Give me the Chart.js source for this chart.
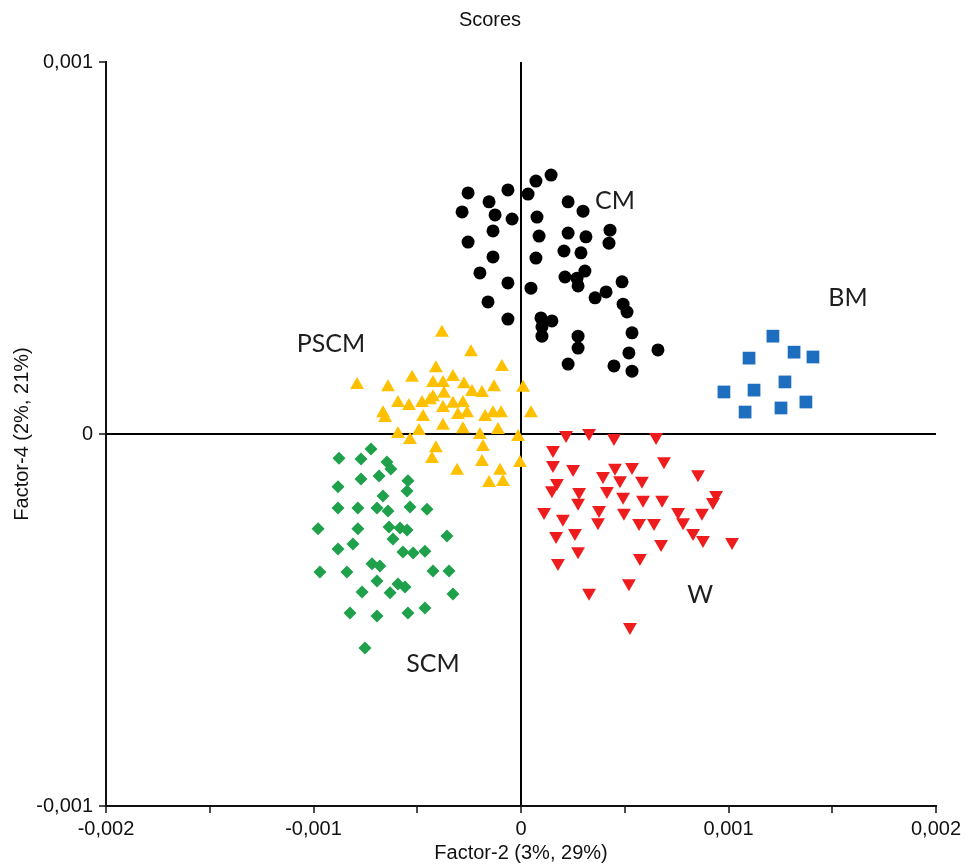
<!DOCTYPE html>
<html>
<head>
<meta charset="utf-8">
<title>Scores</title>
<script src="https://cdn.jsdelivr.net/npm/chart.js@4.4.1/dist/chart.umd.min.js"></script>
<style>
  body { margin: 0; background: #fff; }
  canvas { display: block; }
</style>
</head>
<body>
<canvas id="scores" width="970" height="865"></canvas>
<script>
// score coordinates per group (Factor-2, Factor-4)
const cmX = [1.45e-4, 0.72e-4, -2.55e-4, -0.63e-4, 0.34e-4, -1.54e-4, 2.27e-4, 2.99e-4, -2.84e-4, -1.25e-4,
  -0.43e-4, 0.77e-4, -1.35e-4, 0.87e-4, 2.27e-4, 3.13e-4, 4.29e-4, 4.24e-4, -2.55e-4, -1.35e-4,
  0.72e-4, 2.07e-4, 2.89e-4, -1.98e-4, -0.63e-4, 0.48e-4, 2.12e-4, 2.70e-4, 3.08e-4, 2.75e-4,
  4.87e-4, 3.57e-4, 4.10e-4, -1.59e-4, 4.92e-4, 5.11e-4, -0.63e-4, 0.96e-4, 1.49e-4, 1.01e-4,
  1.01e-4, 2.75e-4, 5.35e-4, 2.75e-4, 6.60e-4, 5.20e-4, 2.27e-4, 4.48e-4, 5.35e-4];
const cmY = [6.96e-4, 6.80e-4, 6.48e-4, 6.56e-4, 6.45e-4, 6.24e-4, 6.24e-4, 5.99e-4, 5.97e-4, 5.89e-4,
  5.78e-4, 5.83e-4, 5.46e-4, 5.32e-4, 5.40e-4, 5.30e-4, 5.48e-4, 5.13e-4, 5.16e-4, 4.76e-4,
  4.73e-4, 4.92e-4, 4.87e-4, 4.33e-4, 4.06e-4, 3.92e-4, 4.22e-4, 4.19e-4, 4.38e-4, 3.98e-4,
  4.09e-4, 3.66e-4, 3.82e-4, 3.55e-4, 3.49e-4, 3.28e-4, 3.09e-4, 3.12e-4, 3.04e-4, 2.88e-4,
  2.63e-4, 2.63e-4, 2.72e-4, 2.31e-4, 2.26e-4, 2.18e-4, 1.88e-4, 1.83e-4, 1.69e-4];

const pscmX = [-3.81e-4, -2.41e-4, -0.92e-4, -4.10e-4, -5.25e-4, -3.28e-4, -7.90e-4, -6.41e-4, -4.24e-4, -3.76e-4,
  -2.75e-4, -1.30e-4, 0.10e-4, -2.36e-4, -1.88e-4, -3.71e-4, -4.24e-4, -5.93e-4, -5.40e-4, -4.77e-4,
  -4.39e-4, -3.28e-4, -2.80e-4, -6.65e-4, -4.72e-4, -3.76e-4, -3.04e-4, -2.60e-4, -1.73e-4, -1.35e-4,
  -0.96e-4, 0.48e-4, -6.55e-4, -3.76e-4, -2.80e-4, -1.11e-4, -5.93e-4, -4.92e-4, -1.98e-4, -5.35e-4,
  -0.14e-4, -1.83e-4, -4.10e-4, -4.29e-4, -1.88e-4, -0.05e-4, -3.08e-4, -1.01e-4, -1.54e-4, -0.87e-4];
const pscmY = [2.72e-4, 2.20e-4, 1.80e-4, 1.77e-4, 1.51e-4, 1.53e-4, 1.32e-4, 1.26e-4, 1.37e-4, 1.37e-4,
  1.34e-4, 1.26e-4, 1.24e-4, 1.13e-4, 1.10e-4, 1.08e-4, 0.99e-4, 0.83e-4, 0.75e-4, 0.83e-4,
  0.91e-4, 0.81e-4, 0.83e-4, 0.56e-4, 0.46e-4, 0.70e-4, 0.51e-4, 0.56e-4, 0.46e-4, 0.56e-4,
  0.56e-4, 0.56e-4, 0.43e-4, 0.22e-4, 0.13e-4, 0.11e-4, 0.00e-4, 0.08e-4, -0.03e-4, -0.16e-4,
  -0.08e-4, -0.35e-4, -0.38e-4, -0.67e-4, -0.75e-4, -0.78e-4, -0.99e-4, -0.99e-4, -1.32e-4, -1.29e-4];

const scmX = [-7.23e-4, -8.77e-4, -7.71e-4, -6.46e-4, -6.27e-4, -7.71e-4, -6.84e-4, -8.82e-4, -5.45e-4, -5.49e-4,
  -6.65e-4, -8.82e-4, -7.86e-4, -6.94e-4, -6.41e-4, -5.35e-4, -4.53e-4, -9.78e-4, -7.86e-4, -6.36e-4,
  -5.83e-4, -5.49e-4, -3.57e-4, -6.17e-4, -8.82e-4, -8.10e-4, -5.69e-4, -5.20e-4, -4.63e-4, -7.18e-4,
  -6.80e-4, -9.69e-4, -8.39e-4, -4.24e-4, -3.47e-4, -6.94e-4, -5.93e-4, -5.59e-4, -7.66e-4, -6.31e-4,
  -3.28e-4, -8.24e-4, -6.94e-4, -5.45e-4, -4.63e-4, -7.52e-4];
const scmY = [-0.40e-4, -0.65e-4, -0.67e-4, -0.75e-4, -0.94e-4, -1.21e-4, -1.13e-4, -1.42e-4, -1.26e-4, -1.53e-4,
  -1.67e-4, -1.99e-4, -1.99e-4, -1.99e-4, -2.07e-4, -1.96e-4, -2.02e-4, -2.55e-4, -2.55e-4, -2.50e-4,
  -2.53e-4, -2.58e-4, -2.74e-4, -2.82e-4, -3.09e-4, -2.96e-4, -3.17e-4, -3.20e-4, -3.15e-4, -3.49e-4,
  -3.55e-4, -3.71e-4, -3.71e-4, -3.68e-4, -3.68e-4, -3.95e-4, -4.03e-4, -4.11e-4, -4.25e-4, -4.27e-4,
  -4.30e-4, -4.81e-4, -4.89e-4, -4.81e-4, -4.68e-4, -5.75e-4];

const wX = [2.17e-4, 3.28e-4, 4.48e-4, 6.51e-4, 1.54e-4, 1.54e-4, 6.89e-4, 2.51e-4, 4.53e-4, 5.35e-4,
  8.53e-4, 3.95e-4, 4.77e-4, 5.83e-4, 1.73e-4, 1.49e-4, 2.80e-4, 4.14e-4, 4.92e-4, 9.40e-4,
  9.25e-4, 5.88e-4, 6.80e-4, 2.75e-4, 1.11e-4, 3.76e-4, 4.96e-4, 7.57e-4, 8.72e-4, 2.02e-4,
  3.71e-4, 5.69e-4, 6.41e-4, 7.81e-4, 1.69e-4, 2.60e-4, 8.29e-4, 8.77e-4, 10.17e-4, 6.75e-4,
  2.75e-4, 5.73e-4, 1.78e-4, 5.20e-4, 3.28e-4, 5.25e-4];
const wY = [-0.03e-4, 0.03e-4, -0.11e-4, -0.08e-4, -0.43e-4, -0.83e-4, -0.73e-4, -0.94e-4, -0.91e-4, -0.89e-4,
  -1.08e-4, -1.13e-4, -1.24e-4, -1.26e-4, -1.32e-4, -1.51e-4, -1.56e-4, -1.53e-4, -1.69e-4, -1.64e-4,
  -1.83e-4, -1.77e-4, -1.77e-4, -1.85e-4, -2.10e-4, -2.04e-4, -2.12e-4, -2.10e-4, -2.12e-4, -2.28e-4,
  -2.37e-4, -2.39e-4, -2.39e-4, -2.37e-4, -2.74e-4, -2.66e-4, -2.66e-4, -2.85e-4, -2.90e-4, -2.96e-4,
  -3.15e-4, -3.33e-4, -3.47e-4, -4.01e-4, -4.27e-4, -5.19e-4];

const bmX = [12.14e-4, 10.99e-4, 13.16e-4, 14.07e-4, 12.72e-4, 9.78e-4, 11.23e-4, 13.73e-4, 10.80e-4, 12.53e-4];
const bmY = [2.63e-4, 2.04e-4, 2.20e-4, 2.07e-4, 1.40e-4, 1.13e-4, 1.18e-4, 0.86e-4, 0.59e-4, 0.70e-4];

// group names written next to each cloud
const groupNames = ['CM', 'BM', 'PSCM', 'SCM', 'W'];
const groupNameX = [4.53e-4, 15.76e-4, -9.16e-4, -4.24e-4, 8.63e-4];
const groupNameY = [6.26e-4, 3.66e-4, 2.42e-4, -6.18e-4, -4.33e-4];

function pairs(xs, ys) {
  return xs.map((x, i) => ({ x: x, y: ys[i] }));
}

function commaNum(v) {
  const s = String(Number(v.toFixed(4)));
  return s.replace('.', ',');
}

const axisFont = { family: "'Liberation Sans', Arial, sans-serif", size: 20 };

const groupNamesPlugin = {
  id: 'groupNames',
  afterDatasetsDraw(chart) {
    const ctx = chart.ctx;
    const xs = chart.scales.x, ys = chart.scales.y;
    ctx.save();
    ctx.font = "25px Lato, 'Open Sans', sans-serif";
    ctx.fillStyle = '#1e1e1e';
    ctx.textAlign = 'center';
    ctx.textBaseline = 'middle';
    groupNames.forEach((name, i) => {
      ctx.fillText(name, xs.getPixelForValue(groupNameX[i]), ys.getPixelForValue(groupNameY[i]));
    });
    // heading sits a little left of the plot centre
    ctx.font = "20px 'Liberation Sans', Arial, sans-serif";
    ctx.fillStyle = '#111';
    ctx.fillText('Scores', 490, 20);
    ctx.restore();
  }
};

const isZero = v => Math.abs(v) < 1e-12;

new Chart(document.getElementById('scores'), {
  type: 'scatter',
  data: {
    datasets: [
      { label: 'CM', data: pairs(cmX, cmY), pointStyle: 'circle', pointRadius: 6.5,
        backgroundColor: '#000000', borderWidth: 0 },
      { label: 'PSCM', data: pairs(pscmX, pscmY), pointStyle: 'triangle', pointRadius: 8,
        backgroundColor: '#FFC000', borderWidth: 0 },
      { label: 'SCM', data: pairs(scmX, scmY), pointStyle: 'rectRot', pointRadius: 6.5,
        backgroundColor: '#1FA04A', borderWidth: 0 },
      { label: 'W', data: pairs(wX, wY), pointStyle: 'triangle', rotation: 180, pointRadius: 8,
        backgroundColor: '#EE1C1C', borderWidth: 0 },
      { label: 'BM', data: pairs(bmX, bmY), pointStyle: 'rect', pointRadius: 9,
        backgroundColor: '#1E6EC0', borderWidth: 0 }
    ]
  },
  options: {
    responsive: false,
    animation: false,
    layout: { padding: { top: 62, right: 34, bottom: 0, left: 0 } },
    plugins: {
      legend: { display: false },
      tooltip: { enabled: false },
      title: { display: false }
    },
    scales: {
      x: {
        type: 'linear',
        min: -0.002,
        max: 0.002,
        afterFit(scale) { scale.height = 59; },
        border: { display: true, color: '#111', width: 2 },
        grid: {
          drawOnChartArea: true,
          drawTicks: true,
          tickLength: 7,
          tickColor: '#111',
          tickWidth: 1.5,
          color: ctx => isZero(ctx.tick.value) ? '#000' : 'rgba(0,0,0,0)',
          lineWidth: 2
        },
        ticks: {
          stepSize: 0.0005,
          autoSkip: false,
          maxRotation: 0,
          padding: 4,
          color: '#111',
          font: axisFont,
          callback: v => {
            const k = v * 1000;
            return Math.abs(k - Math.round(k)) < 1e-9 ? commaNum(v) : '';
          }
        },
        title: {
          display: true,
          text: 'Factor-2 (3%, 29%)',
          color: '#111',
          font: axisFont,
          padding: { top: 0, bottom: 0 }
        }
      },
      y: {
        type: 'linear',
        min: -0.001,
        max: 0.001,
        afterFit(scale) { scale.width = 106; },
        border: { display: true, color: '#111', width: 2 },
        grid: {
          drawOnChartArea: true,
          drawTicks: true,
          tickLength: 7,
          tickColor: '#111',
          tickWidth: 1.5,
          color: ctx => isZero(ctx.tick.value) ? '#000' : 'rgba(0,0,0,0)',
          lineWidth: 2
        },
        ticks: {
          stepSize: 0.001,
          padding: 6,
          color: '#111',
          font: axisFont,
          callback: v => commaNum(v)
        },
        title: {
          display: true,
          text: 'Factor-4 (2%, 21%)',
          color: '#111',
          font: axisFont,
          padding: { top: 10, bottom: 0 }
        }
      }
    }
  },
  plugins: [groupNamesPlugin]
});
</script>
</body>
</html>
